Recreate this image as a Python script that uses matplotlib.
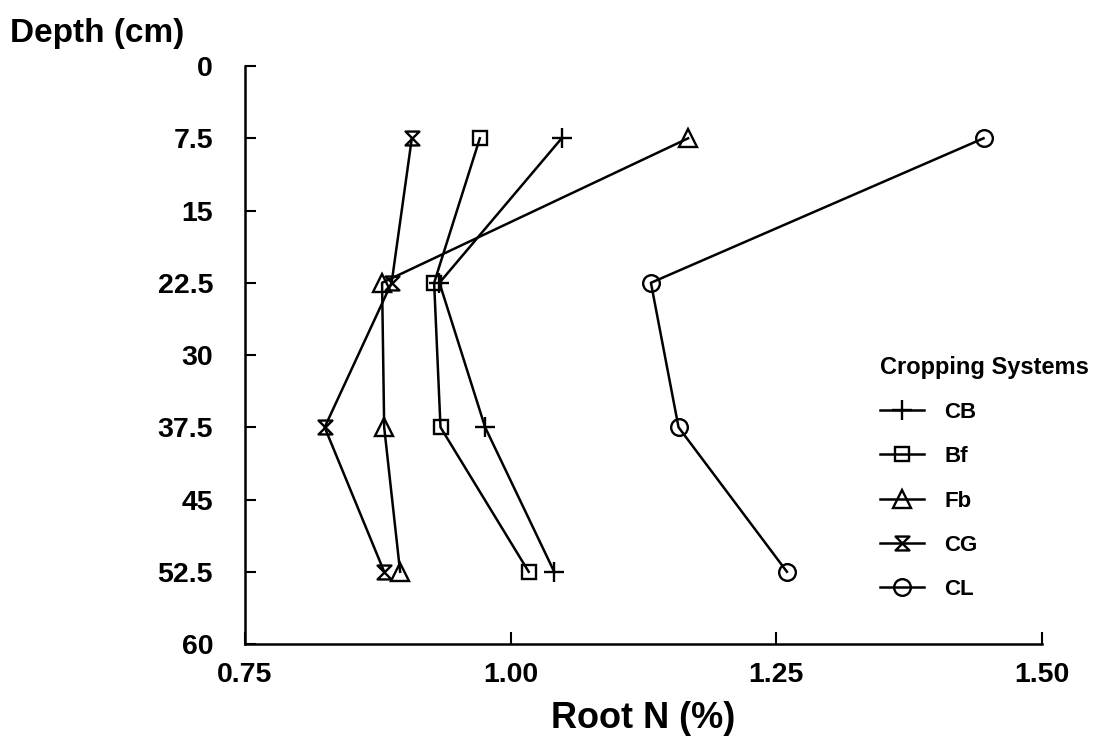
import matplotlib
matplotlib.use("Agg")
import matplotlib.pyplot as plt
from matplotlib.path import Path

plt.rcParams['font.family'] = ['Liberation Sans', 'DejaVu Sans']

# Sampling depths (cm) and root N concentration (%) per cropping system
depths = [7.5, 22.5, 37.5, 52.5]
cb = [1.048, 0.933, 0.976, 1.041]
bf = [0.971, 0.928, 0.934, 1.017]
fb = [1.167, 0.879, 0.881, 0.896]
cg = [0.907, 0.888, 0.825, 0.881]
cl = [1.445, 1.132, 1.158, 1.260]

series_names = ["CB", "Bf", "Fb", "CG", "CL"]
x_ticks = [0.75, 1.00, 1.25, 1.50]
x_tick_labels = ["0.75", "1.00", "1.25", "1.50"]
y_ticks = [0, 7.5, 15, 22.5, 30, 37.5, 45, 52.5, 60]
y_tick_labels = ["0", "7.5", "15", "22.5", "30", "37.5", "45", "52.5", "60"]

# Hourglass marker (two triangles meeting at the tips)
hourglass = Path([(-1, 1), (1, 1), (-1, -1), (1, -1), (-1, 1)],
                 [Path.MOVETO, Path.LINETO, Path.LINETO, Path.LINETO, Path.CLOSEPOLY])

styles = {
    "CB": dict(marker="+", markersize=14),
    "Bf": dict(marker="s", markersize=10.5),
    "Fb": dict(marker="^", markersize=13),
    "CG": dict(marker=hourglass, markersize=10),
    "CL": dict(marker="o", markersize=12),
}

fig = plt.figure(figsize=(11.01, 7.48), dpi=100)
ax = fig.add_axes([0.2225, 0.139, 0.7239, 0.7727])

for name, vals in zip(series_names, [cb, bf, fb, cg, cl]):
    ax.plot(vals, depths, color="black", linewidth=1.8,
            markerfacecolor="none", markeredgecolor="black",
            markeredgewidth=1.7, label=name, **styles[name])

ax.set_xlim(0.75, 1.50)
ax.set_ylim(60, 0)

ax.set_xticks(x_ticks)
ax.set_xticklabels(x_tick_labels)
ax.set_yticks(y_ticks)
ax.set_yticklabels(y_tick_labels)

for lab in ax.get_xticklabels() + ax.get_yticklabels():
    lab.set_fontsize(20.5)
    lab.set_fontweight("bold")

ax.tick_params(axis="y", direction="in", length=8, width=1.5, pad=23)
ax.tick_params(axis="x", direction="in", length=9, width=1.5, pad=13)

for side in ("top", "right"):
    ax.spines[side].set_visible(False)
for side in ("left", "bottom"):
    ax.spines[side].set_linewidth(1.8)

ax.set_xlabel("Root N (%)", fontsize=26, fontweight="bold", labelpad=9)

fig.text(0.009, 0.944, "Depth (cm)", fontsize=24, fontweight="bold",
         ha="left", va="baseline")

leg = ax.legend(loc="upper left", bbox_to_anchor=(0.790, 0.538),
                bbox_transform=fig.transFigure, frameon=False,
                title="Cropping Systems", alignment="left",
                prop={"weight": "bold", "size": 16},
                title_fontproperties={"weight": "bold", "size": 17},
                handlelength=2.0, handletextpad=0.9, labelspacing=1.05,
                borderpad=0.45, borderaxespad=0)

fig.savefig("out.png", dpi=100)
